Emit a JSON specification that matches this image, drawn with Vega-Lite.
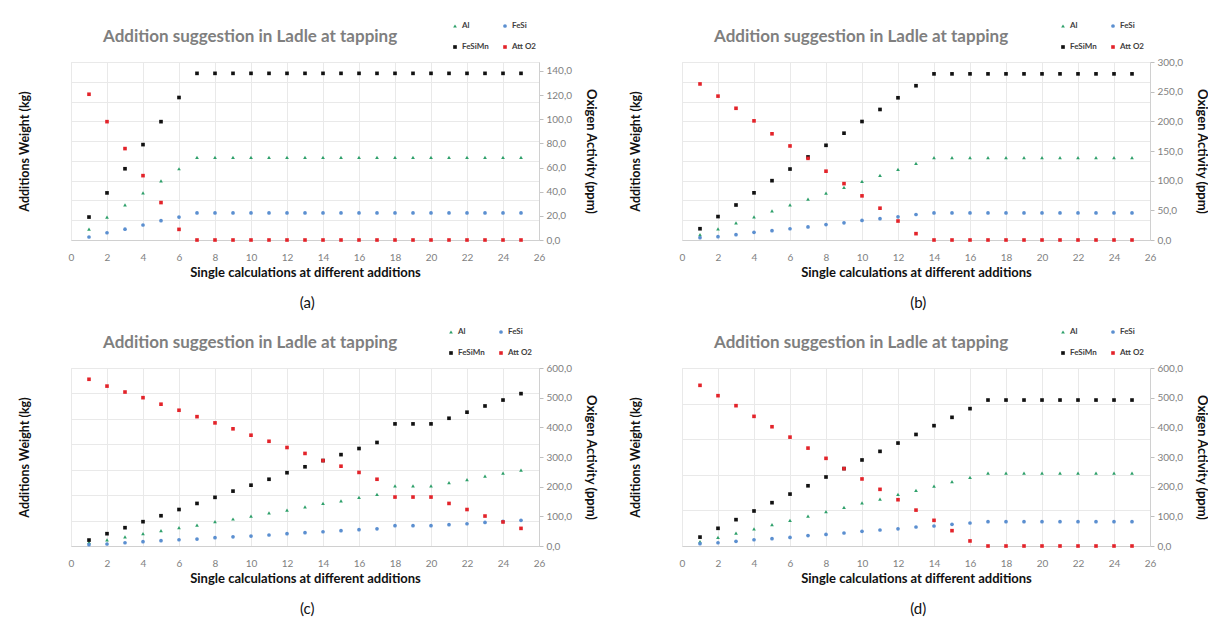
{
"$schema":"https://vega.github.io/schema/vega-lite/v6.json",
"padding":{"left":17,"top":21,"right":0,"bottom":0},
"datasets":{"rows":[
{"p":"a","n":1,"Al":9,"FeSi":2.5,"FeSiMn":19,"Att O2":120.7},
{"p":"a","n":2,"Al":19,"FeSi":6,"FeSiMn":39,"Att O2":98},
{"p":"a","n":3,"Al":29,"FeSi":9,"FeSiMn":59,"Att O2":75.7},
{"p":"a","n":4,"Al":39,"FeSi":12.4,"FeSiMn":79,"Att O2":53.3},
{"p":"a","n":5,"Al":49,"FeSi":16,"FeSiMn":98,"Att O2":31},
{"p":"a","n":6,"Al":59,"FeSi":19,"FeSiMn":118,"Att O2":8.8},
{"p":"a","n":7,"Al":68.5,"FeSi":22.4,"FeSiMn":138,"Att O2":0},
{"p":"a","n":8,"Al":68.5,"FeSi":22.4,"FeSiMn":138,"Att O2":0},
{"p":"a","n":9,"Al":68.5,"FeSi":22.4,"FeSiMn":138,"Att O2":0},
{"p":"a","n":10,"Al":68.5,"FeSi":22.4,"FeSiMn":138,"Att O2":0},
{"p":"a","n":11,"Al":68.5,"FeSi":22.4,"FeSiMn":138,"Att O2":0},
{"p":"a","n":12,"Al":68.5,"FeSi":22.4,"FeSiMn":138,"Att O2":0},
{"p":"a","n":13,"Al":68.5,"FeSi":22.4,"FeSiMn":138,"Att O2":0},
{"p":"a","n":14,"Al":68.5,"FeSi":22.4,"FeSiMn":138,"Att O2":0},
{"p":"a","n":15,"Al":68.5,"FeSi":22.4,"FeSiMn":138,"Att O2":0},
{"p":"a","n":16,"Al":68.5,"FeSi":22.4,"FeSiMn":138,"Att O2":0},
{"p":"a","n":17,"Al":68.5,"FeSi":22.4,"FeSiMn":138,"Att O2":0},
{"p":"a","n":18,"Al":68.5,"FeSi":22.4,"FeSiMn":138,"Att O2":0},
{"p":"a","n":19,"Al":68.5,"FeSi":22.4,"FeSiMn":138,"Att O2":0},
{"p":"a","n":20,"Al":68.5,"FeSi":22.4,"FeSiMn":138,"Att O2":0},
{"p":"a","n":21,"Al":68.5,"FeSi":22.4,"FeSiMn":138,"Att O2":0},
{"p":"a","n":22,"Al":68.5,"FeSi":22.4,"FeSiMn":138,"Att O2":0},
{"p":"a","n":23,"Al":68.5,"FeSi":22.4,"FeSiMn":138,"Att O2":0},
{"p":"a","n":24,"Al":68.5,"FeSi":22.4,"FeSiMn":138,"Att O2":0},
{"p":"a","n":25,"Al":68.5,"FeSi":22.4,"FeSiMn":138,"Att O2":0},
{"p":"b","n":1,"Al":9,"FeSi":4,"FeSiMn":19,"Att O2":263},
{"p":"b","n":2,"Al":18.6,"FeSi":5.6,"FeSiMn":39.5,"Att O2":242.5},
{"p":"b","n":3,"Al":28.8,"FeSi":9,"FeSiMn":59,"Att O2":222},
{"p":"b","n":4,"Al":39,"FeSi":13,"FeSiMn":79.5,"Att O2":200.8},
{"p":"b","n":5,"Al":49,"FeSi":15.8,"FeSiMn":100,"Att O2":179},
{"p":"b","n":6,"Al":59,"FeSi":19,"FeSiMn":119.6,"Att O2":158.5},
{"p":"b","n":7,"Al":68.8,"FeSi":22,"FeSiMn":140,"Att O2":137.6},
{"p":"b","n":8,"Al":79,"FeSi":26,"FeSiMn":159.6,"Att O2":116},
{"p":"b","n":9,"Al":88.5,"FeSi":29,"FeSiMn":180,"Att O2":95},
{"p":"b","n":10,"Al":98.7,"FeSi":33,"FeSiMn":199.7,"Att O2":74.4},
{"p":"b","n":11,"Al":108.8,"FeSi":36,"FeSiMn":220,"Att O2":53.6},
{"p":"b","n":12,"Al":119,"FeSi":39,"FeSiMn":239.7,"Att O2":32},
{"p":"b","n":13,"Al":129,"FeSi":43,"FeSiMn":260,"Att O2":10.7},
{"p":"b","n":14,"Al":138.7,"FeSi":45.7,"FeSiMn":280,"Att O2":0},
{"p":"b","n":15,"Al":138.7,"FeSi":45.7,"FeSiMn":280,"Att O2":0},
{"p":"b","n":16,"Al":138.7,"FeSi":45.7,"FeSiMn":280,"Att O2":0},
{"p":"b","n":17,"Al":138.7,"FeSi":45.7,"FeSiMn":280,"Att O2":0},
{"p":"b","n":18,"Al":138.7,"FeSi":45.7,"FeSiMn":280,"Att O2":0},
{"p":"b","n":19,"Al":138.7,"FeSi":45.7,"FeSiMn":280,"Att O2":0},
{"p":"b","n":20,"Al":138.7,"FeSi":45.7,"FeSiMn":280,"Att O2":0},
{"p":"b","n":21,"Al":138.7,"FeSi":45.7,"FeSiMn":280,"Att O2":0},
{"p":"b","n":22,"Al":138.7,"FeSi":45.7,"FeSiMn":280,"Att O2":0},
{"p":"b","n":23,"Al":138.7,"FeSi":45.7,"FeSiMn":280,"Att O2":0},
{"p":"b","n":24,"Al":138.7,"FeSi":45.7,"FeSiMn":280,"Att O2":0},
{"p":"b","n":25,"Al":138.7,"FeSi":45.7,"FeSiMn":280,"Att O2":0},
{"p":"c","n":1,"Al":12,"FeSi":4.5,"FeSiMn":20,"Att O2":562},
{"p":"c","n":2,"Al":21,"FeSi":6.7,"FeSiMn":41.5,"Att O2":539},
{"p":"c","n":3,"Al":31,"FeSi":11,"FeSiMn":61.7,"Att O2":519},
{"p":"c","n":4,"Al":41.5,"FeSi":14.6,"FeSiMn":82,"Att O2":500},
{"p":"c","n":5,"Al":51.6,"FeSi":18,"FeSiMn":102,"Att O2":478},
{"p":"c","n":6,"Al":61.7,"FeSi":21,"FeSiMn":123,"Att O2":457.6},
{"p":"c","n":7,"Al":70.6,"FeSi":23.5,"FeSiMn":143.5,"Att O2":436},
{"p":"c","n":8,"Al":82,"FeSi":28,"FeSiMn":164,"Att O2":415},
{"p":"c","n":9,"Al":91,"FeSi":31,"FeSiMn":185,"Att O2":395},
{"p":"c","n":10,"Al":101,"FeSi":33.6,"FeSiMn":205,"Att O2":373.5},
{"p":"c","n":11,"Al":112,"FeSi":37,"FeSiMn":225,"Att O2":353},
{"p":"c","n":12,"Al":121,"FeSi":41.5,"FeSiMn":247,"Att O2":332},
{"p":"c","n":13,"Al":132,"FeSi":45,"FeSiMn":267,"Att O2":312},
{"p":"c","n":14,"Al":143.5,"FeSi":48,"FeSiMn":288,"Att O2":288},
{"p":"c","n":15,"Al":152.5,"FeSi":51.6,"FeSiMn":308,"Att O2":269},
{"p":"c","n":16,"Al":164,"FeSi":55,"FeSiMn":328.6,"Att O2":248},
{"p":"c","n":17,"Al":174,"FeSi":58,"FeSiMn":349,"Att O2":225},
{"p":"c","n":18,"Al":203,"FeSi":68.4,"FeSiMn":411.6,"Att O2":165},
{"p":"c","n":19,"Al":203,"FeSi":68.4,"FeSiMn":411.6,"Att O2":165},
{"p":"c","n":20,"Al":203,"FeSi":68.4,"FeSiMn":411.6,"Att O2":165},
{"p":"c","n":21,"Al":214,"FeSi":72,"FeSiMn":430.6,"Att O2":143.5},
{"p":"c","n":22,"Al":224,"FeSi":75,"FeSiMn":451,"Att O2":123},
{"p":"c","n":23,"Al":235.5,"FeSi":79.6,"FeSiMn":472,"Att O2":101},
{"p":"c","n":24,"Al":245.6,"FeSi":83,"FeSiMn":492,"Att O2":81},
{"p":"c","n":25,"Al":255.7,"FeSi":86.4,"FeSiMn":513.6,"Att O2":59.4},
{"p":"d","n":1,"Al":14.6,"FeSi":8,"FeSiMn":30,"Att O2":541.6},
{"p":"d","n":2,"Al":29,"FeSi":11,"FeSiMn":59.6,"Att O2":506.7},
{"p":"d","n":3,"Al":43.8,"FeSi":15.7,"FeSiMn":88.8,"Att O2":473},
{"p":"d","n":4,"Al":58,"FeSi":21,"FeSiMn":118,"Att O2":437},
{"p":"d","n":5,"Al":72,"FeSi":24.7,"FeSiMn":146,"Att O2":402},
{"p":"d","n":6,"Al":86.5,"FeSi":29,"FeSiMn":175,"Att O2":367},
{"p":"d","n":7,"Al":101,"FeSi":35,"FeSiMn":203,"Att O2":330},
{"p":"d","n":8,"Al":115.7,"FeSi":39,"FeSiMn":232.6,"Att O2":295.5},
{"p":"d","n":9,"Al":130,"FeSi":43.8,"FeSiMn":261,"Att O2":260.7},
{"p":"d","n":10,"Al":145,"FeSi":49.4,"FeSiMn":290,"Att O2":226},
{"p":"d","n":11,"Al":158,"FeSi":54,"FeSiMn":319,"Att O2":191},
{"p":"d","n":12,"Al":174,"FeSi":58,"FeSiMn":347,"Att O2":156},
{"p":"d","n":13,"Al":187.6,"FeSi":64,"FeSiMn":376,"Att O2":121},
{"p":"d","n":14,"Al":202,"FeSi":67.4,"FeSiMn":405.6,"Att O2":86.5},
{"p":"d","n":15,"Al":217,"FeSi":73,"FeSiMn":433.7,"Att O2":51.7},
{"p":"d","n":16,"Al":231.5,"FeSi":77.5,"FeSiMn":463,"Att O2":17},
{"p":"d","n":17,"Al":246,"FeSi":82,"FeSiMn":492,"Att O2":0},
{"p":"d","n":18,"Al":246,"FeSi":82,"FeSiMn":492,"Att O2":0},
{"p":"d","n":19,"Al":246,"FeSi":82,"FeSiMn":492,"Att O2":0},
{"p":"d","n":20,"Al":246,"FeSi":82,"FeSiMn":492,"Att O2":0},
{"p":"d","n":21,"Al":246,"FeSi":82,"FeSiMn":492,"Att O2":0},
{"p":"d","n":22,"Al":246,"FeSi":82,"FeSiMn":492,"Att O2":0},
{"p":"d","n":23,"Al":246,"FeSi":82,"FeSiMn":492,"Att O2":0},
{"p":"d","n":24,"Al":246,"FeSi":82,"FeSiMn":492,"Att O2":0},
{"p":"d","n":25,"Al":246,"FeSi":82,"FeSiMn":492,"Att O2":0}
]},
"resolve":{"scale":{"color":"independent","shape":"independent","size":"independent"},"legend":{"color":"independent","shape":"independent","size":"independent"}},
"spacing":16,
"vconcat":[
{"hconcat":[
{"title":{"text":"(a)","orient":"bottom","anchor":"middle","frame":"bounds","dx":0,"offset":16,"fontSize":15,"fontWeight":"normal","color":"#111111"},
 "resolve":{"scale":{"color":"independent","shape":"independent","size":"independent"},"legend":{"color":"independent","shape":"independent","size":"independent"}},
 "vconcat":[{
  "width":468,"height":178,
  "title":{"text":"Addition suggestion in Ladle at tapping","offset":-24},
  "data":{"name":"rows"},
  "transform":[{"filter":"datum.p=='a'"},{"fold":["Al","FeSi","FeSiMn","Att O2"],"as":["s","v"]}],
  "encoding":{
   "x":{"field":"n","type":"quantitative","title":"Single calculations at different additions","scale":{"domain":[0,26],"nice":false},"axis":{"values":[0,2,4,6,8,10,12,14,16,18,20,22,24,26]}},
   "color":{"field":"s","type":"nominal","scale":{"domain":["Al","FeSi","FeSiMn","Att O2"],"range":["#2ea06a","#5b8fd0","#111111","#e3232a"]},"legend":{"title":null,"orient":"none","legendX":380,"legendY":-40}},
   "shape":{"field":"s","type":"nominal","scale":{"domain":["Al","FeSi","FeSiMn","Att O2"],"range":["triangle-up","circle","square","square"]},"legend":{"title":null,"orient":"none","legendX":380,"legendY":-40}},
   "size":{"field":"s","type":"nominal","scale":{"domain":["Al","FeSi","FeSiMn","Att O2"],"range":[14,13,26,28]},"legend":null}
  },
  "layer":[
   {"transform":[{"filter":"datum.s!='Att O2'"}],"mark":{"type":"point","filled":true,"opacity":1},
    "encoding":{"y":{"field":"v","type":"quantitative","scale":{"domain":[0,147.4],"nice":false},"axis":{"orient":"left","title":"Additions Weight (kg)","labels":false,"ticks":false,"domain":false,"grid":true,"values":[0,16.38,32.76,49.13,65.51,81.89,98.27,114.64,131.02,147.4],"titlePadding":40}}}},
   {"transform":[{"filter":"datum.s=='Att O2'"}],"mark":{"type":"point","filled":true,"opacity":1},
    "encoding":{"y":{"field":"v","type":"quantitative","scale":{"domain":[0,147.4],"nice":false},"axis":{"orient":"right","title":"Oxigen Activity (ppm)","grid":false,"values":[0,20,40,60,80,100,120,140],"labelExpr":"replace(format(datum.value,'.1f'),'.',',')"}}}}
  ],
  "resolve":{"axis":{"y":"independent"}}
 }]},
{"title":{"text":"(b)","orient":"bottom","anchor":"middle","frame":"bounds","dx":0,"offset":16,"fontSize":15,"fontWeight":"normal","color":"#111111"},
 "resolve":{"scale":{"color":"independent","shape":"independent","size":"independent"},"legend":{"color":"independent","shape":"independent","size":"independent"}},
 "vconcat":[{
  "width":468,"height":178,
  "title":{"text":"Addition suggestion in Ladle at tapping","offset":-24},
  "data":{"name":"rows"},
  "transform":[{"filter":"datum.p=='b'"},{"fold":["Al","FeSi","FeSiMn","Att O2"],"as":["s","v"]}],
  "encoding":{
   "x":{"field":"n","type":"quantitative","title":"Single calculations at different additions","scale":{"domain":[0,26],"nice":false},"axis":{"values":[0,2,4,6,8,10,12,14,16,18,20,22,24,26]}},
   "color":{"field":"s","type":"nominal","scale":{"domain":["Al","FeSi","FeSiMn","Att O2"],"range":["#2ea06a","#5b8fd0","#111111","#e3232a"]},"legend":{"title":null,"orient":"none","legendX":377,"legendY":-40}},
   "shape":{"field":"s","type":"nominal","scale":{"domain":["Al","FeSi","FeSiMn","Att O2"],"range":["triangle-up","circle","square","square"]},"legend":{"title":null,"orient":"none","legendX":377,"legendY":-40}},
   "size":{"field":"s","type":"nominal","scale":{"domain":["Al","FeSi","FeSiMn","Att O2"],"range":[14,13,26,28]},"legend":null}
  },
  "layer":[
   {"transform":[{"filter":"datum.s!='Att O2'"}],"mark":{"type":"point","filled":true,"opacity":1},
    "encoding":{"y":{"field":"v","type":"quantitative","scale":{"domain":[0,300],"nice":false},"axis":{"orient":"left","title":"Additions Weight (kg)","labels":false,"ticks":false,"domain":false,"grid":true,"values":[0,33.3,66.7,100,133.3,166.7,200,233.3,266.7,300],"titlePadding":40}}}},
   {"transform":[{"filter":"datum.s=='Att O2'"}],"mark":{"type":"point","filled":true,"opacity":1},
    "encoding":{"y":{"field":"v","type":"quantitative","scale":{"domain":[0,300],"nice":false},"axis":{"orient":"right","title":"Oxigen Activity (ppm)","grid":false,"values":[0,50,100,150,200,250,300],"labelExpr":"replace(format(datum.value,'.1f'),'.',',')"}}}}
  ],
  "resolve":{"axis":{"y":"independent"}}
 }]}
],"spacing":31,
"resolve":{"scale":{"color":"independent","shape":"independent","size":"independent"},"legend":{"color":"independent","shape":"independent","size":"independent"}}},
{"hconcat":[
{"title":{"text":"(c)","orient":"bottom","anchor":"middle","frame":"bounds","dx":0,"offset":16,"fontSize":15,"fontWeight":"normal","color":"#111111"},
 "resolve":{"scale":{"color":"independent","shape":"independent","size":"independent"},"legend":{"color":"independent","shape":"independent","size":"independent"}},
 "vconcat":[{
  "width":468,"height":178,
  "title":{"text":"Addition suggestion in Ladle at tapping","offset":-24},
  "data":{"name":"rows"},
  "transform":[{"filter":"datum.p=='c'"},{"fold":["Al","FeSi","FeSiMn","Att O2"],"as":["s","v"]}],
  "encoding":{
   "x":{"field":"n","type":"quantitative","title":"Single calculations at different additions","scale":{"domain":[0,26],"nice":false},"axis":{"values":[0,2,4,6,8,10,12,14,16,18,20,22,24,26]}},
   "color":{"field":"s","type":"nominal","scale":{"domain":["Al","FeSi","FeSiMn","Att O2"],"range":["#2ea06a","#5b8fd0","#111111","#e3232a"]},"legend":{"title":null,"orient":"none","legendX":376,"legendY":-40}},
   "shape":{"field":"s","type":"nominal","scale":{"domain":["Al","FeSi","FeSiMn","Att O2"],"range":["triangle-up","circle","square","square"]},"legend":{"title":null,"orient":"none","legendX":376,"legendY":-40}},
   "size":{"field":"s","type":"nominal","scale":{"domain":["Al","FeSi","FeSiMn","Att O2"],"range":[14,13,26,28]},"legend":null}
  },
  "layer":[
   {"transform":[{"filter":"datum.s!='Att O2'"}],"mark":{"type":"point","filled":true,"opacity":1},
    "encoding":{"y":{"field":"v","type":"quantitative","scale":{"domain":[0,600],"nice":false},"axis":{"orient":"left","title":"Additions Weight (kg)","labels":false,"ticks":false,"domain":false,"grid":true,"values":[0,85.7,171.4,257.1,342.9,428.6,514.3,600],"titlePadding":40}}}},
   {"transform":[{"filter":"datum.s=='Att O2'"}],"mark":{"type":"point","filled":true,"opacity":1},
    "encoding":{"y":{"field":"v","type":"quantitative","scale":{"domain":[0,600],"nice":false},"axis":{"orient":"right","title":"Oxigen Activity (ppm)","grid":false,"values":[0,100,200,300,400,500,600],"labelExpr":"replace(format(datum.value,'.1f'),'.',',')"}}}}
  ],
  "resolve":{"axis":{"y":"independent"}}
 }]},
{"title":{"text":"(d)","orient":"bottom","anchor":"middle","frame":"bounds","dx":0,"offset":16,"fontSize":15,"fontWeight":"normal","color":"#111111"},
 "resolve":{"scale":{"color":"independent","shape":"independent","size":"independent"},"legend":{"color":"independent","shape":"independent","size":"independent"}},
 "vconcat":[{
  "width":468,"height":178,
  "title":{"text":"Addition suggestion in Ladle at tapping","offset":-24},
  "data":{"name":"rows"},
  "transform":[{"filter":"datum.p=='d'"},{"fold":["Al","FeSi","FeSiMn","Att O2"],"as":["s","v"]}],
  "encoding":{
   "x":{"field":"n","type":"quantitative","title":"Single calculations at different additions","scale":{"domain":[0,26],"nice":false},"axis":{"values":[0,2,4,6,8,10,12,14,16,18,20,22,24,26]}},
   "color":{"field":"s","type":"nominal","scale":{"domain":["Al","FeSi","FeSiMn","Att O2"],"range":["#2ea06a","#5b8fd0","#111111","#e3232a"]},"legend":{"title":null,"orient":"none","legendX":377,"legendY":-40}},
   "shape":{"field":"s","type":"nominal","scale":{"domain":["Al","FeSi","FeSiMn","Att O2"],"range":["triangle-up","circle","square","square"]},"legend":{"title":null,"orient":"none","legendX":377,"legendY":-40}},
   "size":{"field":"s","type":"nominal","scale":{"domain":["Al","FeSi","FeSiMn","Att O2"],"range":[14,13,26,28]},"legend":null}
  },
  "layer":[
   {"transform":[{"filter":"datum.s!='Att O2'"}],"mark":{"type":"point","filled":true,"opacity":1},
    "encoding":{"y":{"field":"v","type":"quantitative","scale":{"domain":[0,600],"nice":false},"axis":{"orient":"left","title":"Additions Weight (kg)","labels":false,"ticks":false,"domain":false,"grid":true,"values":[0,120,240,360,480,600],"titlePadding":40}}}},
   {"transform":[{"filter":"datum.s=='Att O2'"}],"mark":{"type":"point","filled":true,"opacity":1},
    "encoding":{"y":{"field":"v","type":"quantitative","scale":{"domain":[0,600],"nice":false},"axis":{"orient":"right","title":"Oxigen Activity (ppm)","grid":false,"values":[0,100,200,300,400,500,600],"labelExpr":"replace(format(datum.value,'.1f'),'.',',')"}}}}
  ],
  "resolve":{"axis":{"y":"independent"}}
 }]}
],"spacing":31,
"resolve":{"scale":{"color":"independent","shape":"independent","size":"independent"},"legend":{"color":"independent","shape":"independent","size":"independent"}}}
],
"config":{
 "font":"Lato",
 "background":"white",
 "view":{"stroke":"#e6e6e6"},
 "axis":{"labelColor":"#7f7f7f","labelFontSize":10,"titleFontSize":12.5,"titleFontWeight":"bold","titleColor":"#111111","gridColor":"#e9e9e9","domainColor":"#d0d0d0","tickColor":"#bfbfbf","labelFlush":false,"labelOverlap":false},
 "axisX":{"grid":true,"ticks":false,"labelPadding":12,"titlePadding":4,"titleFontSize":13},
 "axisRight":{"tickSize":4,"labelPadding":3,"titlePadding":12,"domain":true,"titleFontSize":13},
 "legend":{"labelFontSize":8,"labelFontWeight":"bold","labelColor":"#404040","symbolSize":12,"columns":2,"direction":"horizontal","columnPadding":12,"rowPadding":13,"padding":0,"labelOffset":3,"symbolStrokeWidth":0},
 "title":{"anchor":"start","frame":"group","dx":32,"fontSize":17,"fontWeight":"bold","color":"#7f7f7f"},
 "concat":{"spacing":14}
}
}
